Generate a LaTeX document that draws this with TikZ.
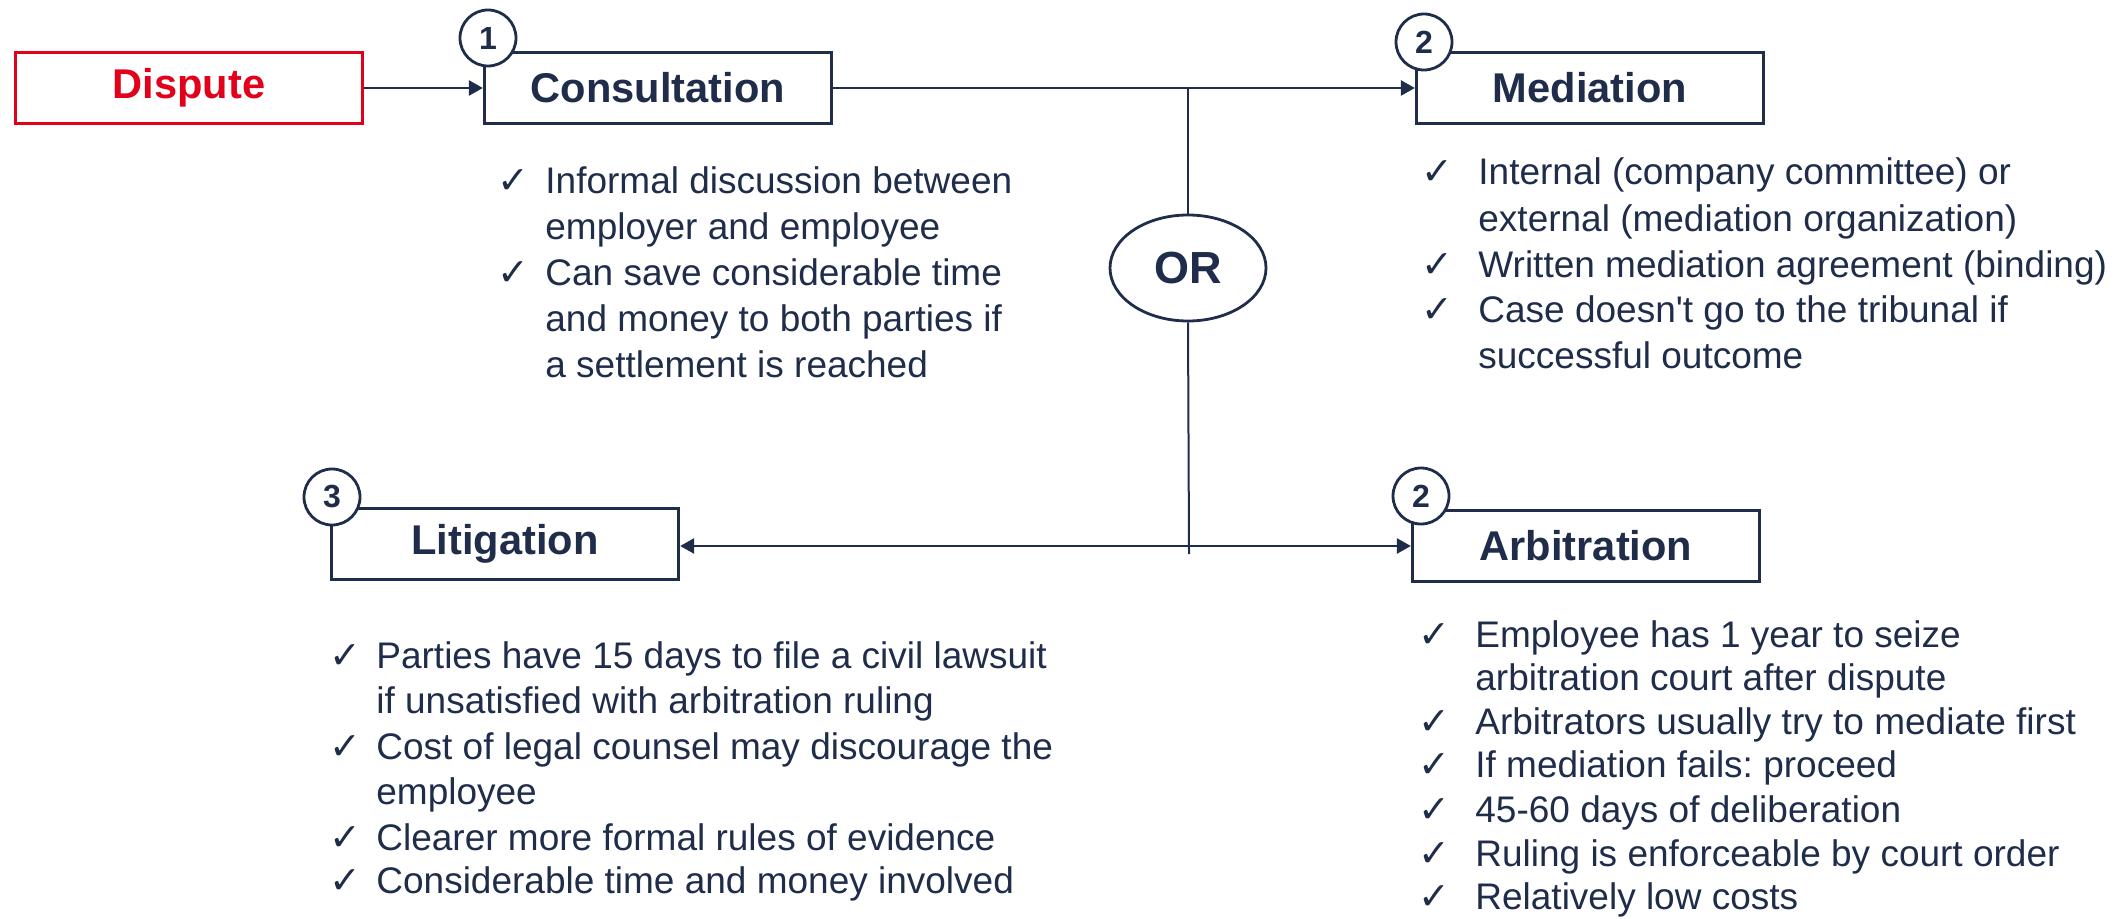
\documentclass[tikz,border=0pt]{standalone}
\usepackage{fontspec}
\setmainfont{Liberation Sans}
\newfontfamily\chkfont{DejaVu Sans}
\usetikzlibrary{arrows.meta,shapes.geometric}
\definecolor{navy}{HTML}{1F2D4A}
\definecolor{dred}{HTML}{E2001A}
\frenchspacing
\begin{document}
\begin{tikzpicture}[x=0.5pt,y=-0.5pt,
  box/.style={draw=navy, line width=1.65pt, fill=white, minimum width=173.5pt, minimum height=35.5pt, inner sep=0pt, font=\fontsize{20.8}{24}\selectfont\bfseries, text=navy},
  redbox/.style={box, draw=dred, text=dred},
  num/.style={circle, draw=navy, line width=1.4pt, fill=white, minimum size=28pt, inner sep=0pt, font=\fontsize{16}{16}\selectfont\bfseries, text=navy},
  orbox/.style={ellipse, draw=navy, line width=1.4pt, fill=white, minimum width=78pt, minimum height=53pt, inner sep=0pt, font=\fontsize{22.5}{24}\selectfont\bfseries, text=navy},
  conn/.style={draw=navy, line width=1.25pt, -{Triangle[length=7pt,width=7.5pt]}},
  dconn/.style={draw=navy, line width=1.25pt, {Triangle[length=7pt,width=7.5pt]}-{Triangle[length=7pt,width=7.5pt]}},
  vline/.style={draw=navy, line width=1pt},
  lt/.style={anchor=base west, inner sep=0pt, font=\fontsize{18.5}{22}\selectfont\frenchspacing, text=navy},
  ck/.style={anchor=base west, inner sep=0pt, font=\chkfont\fontsize{19}{19}\selectfont, text=navy}]
\useasboundingbox (0,0) rectangle (2128,919);

% main boxes
\node[redbox] (dis) at (189,88) {Dispute};
\node[box] (con) at (658,88) {Consultation};
\node[box] (med) at (1590,88) {Mediation};
\node[box] (lit) at (505,544) {Litigation};
\node[box] (arb) at (1586,546) {Arbitration};
\node[orbox] (or) at (1188,268) {OR};

% number circles
\node[num] (n1) at (488,38) {1};
\node[num] (n2) at (1424,42) {2};
\node[num] (n3) at (332,497) {3};
\node[num] (n4) at (1421,496) {2};

% connectors
\draw[conn] (dis.east) -- (dis.east -| con.west);
\draw[conn] (con.east) -- (con.east -| med.west);
\coordinate (jt) at (1188,88);
\coordinate (jb) at (1189,554);
\draw[vline] (jt) -- (or.north);
\draw[vline] (or.south) -- (jb);
\draw[dconn] (arb.west -| lit.east) -- (arb.west);

% Consultation bullets
\node[ck] (c1k) at (497,193.5) {✓};
\node[lt] (c1a) at (545,193.5) {Informal discussion between};
\node[lt] (c1b) at (545,239.5) {employer and employee};
\node[ck] (c2k) at (497,285.5) {✓};
\node[lt] (c2a) at (545,285.5) {Can save considerable time};
\node[lt] (c2b) at (545,332) {and money to both parties if};
\node[lt] (c2c) at (545,378) {a settlement is reached};

% Mediation bullets
\node[ck] (m1k) at (1421,185) {✓};
\node[lt] (m1a) at (1478,185) {Internal (company committee) or};
\node[lt] (m1b) at (1478,231.5) {external (mediation organization)};
\node[ck] (m2k) at (1421,277.5) {✓};
\node[lt] (m2a) at (1478,277.5) {Written mediation agreement (binding)};
\node[ck] (m3k) at (1421,322.5) {✓};
\node[lt] (m3a) at (1478,322.5) {Case doesn{\addfontfeature{Ligatures=TeXOff}'}t go to the tribunal if};
\node[lt] (m3b) at (1478,368.5) {successful outcome};

% Litigation bullets
\node[ck] (l1k) at (329,668) {✓};
\node[lt] (l1a) at (376,668) {Parties have 15 days to file a civil lawsuit};
\node[lt] (l1b) at (376,713) {if unsatisfied with arbitration ruling};
\node[ck] (l2k) at (329,759) {✓};
\node[lt] (l2a) at (376,759) {Cost of legal counsel may discourage the};
\node[lt] (l2b) at (376,804) {employee};
\node[ck] (l3k) at (329,850) {✓};
\node[lt] (l3a) at (376,850) {Clearer more formal rules of evidence};
\node[ck] (l4k) at (329,893) {✓};
\node[lt] (l4a) at (376,893) {Considerable time and money involved};

% Arbitration bullets
\node[ck] (a1k) at (1418,647) {✓};
\node[lt] (a1a) at (1475,647) {Employee has 1 year to seize};
\node[lt] (a1b) at (1475,690) {arbitration court after dispute};
\node[ck] (a2k) at (1418,734) {✓};
\node[lt] (a2a) at (1475,734) {Arbitrators usually try to mediate first};
\node[ck] (a3k) at (1418,777) {✓};
\node[lt] (a3a) at (1475,777) {If mediation fails: proceed};
\node[ck] (a4k) at (1418,822) {✓};
\node[lt] (a4a) at (1475,822) {45-60 days of deliberation};
\node[ck] (a5k) at (1418,866) {✓};
\node[lt] (a5a) at (1475,866) {Ruling is enforceable by court order};
\node[ck] (a6k) at (1418,909) {✓};
\node[lt] (a6a) at (1475,909) {Relatively low costs};
\end{tikzpicture}
\end{document}
